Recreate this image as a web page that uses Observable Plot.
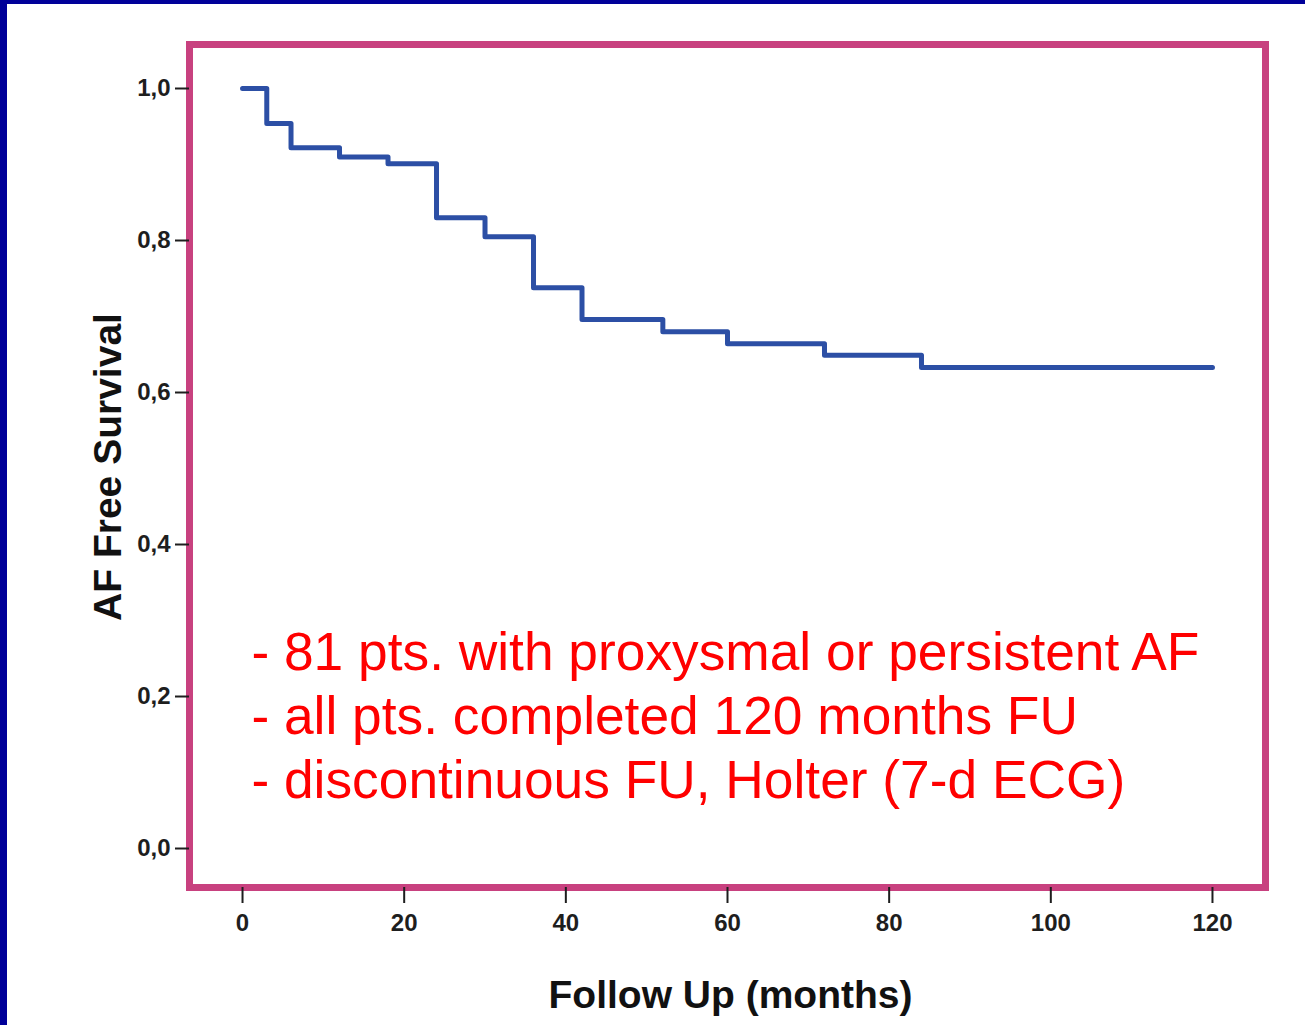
<!DOCTYPE html>
<html><head><meta charset="utf-8">
<script src="https://cdn.jsdelivr.net/npm/d3@7"></script>
<script src="https://cdn.jsdelivr.net/npm/@observablehq/plot@0.6"></script>
<style>
html,body{margin:0;padding:0;background:#fff;}
#wrap{position:relative;width:1305px;height:1025px;overflow:hidden;background:#fff;}
#wrap svg{position:absolute;left:0;top:0;}
.edgeL{position:absolute;left:0;top:0;width:7px;height:1025px;background:#000099;}
.edgeT{position:absolute;left:0;top:0;width:1305px;height:4px;background:#000099;}
</style></head>
<body><div id="wrap"><div class="edgeL"></div><div class="edgeT"></div></div>
<script>
const months   = [0, 3, 6, 12, 18, 24, 30, 36, 42, 52, 60, 72, 84, 120];
const survival = [1.0, 0.954, 0.922, 0.910, 0.901, 0.830, 0.805, 0.738, 0.696, 0.680, 0.664, 0.649, 0.633, 0.633];
const xTicks = [0, 20, 40, 60, 80, 100, 120];
const yTicks = [0, 0.2, 0.4, 0.6, 0.8, 1.0];
const xLabel = "Follow Up (months)";
const yLabel = "AF Free Survival";
const notes = [
  "- 81 pts. with proxysmal or persistent AF",
  "- all pts. completed 120 months FU",
  "- discontinuous FU, Holter (7-d ECG)"
];

const data = months.map((m, i) => ({month: m, surv: survival[i]}));
const font = "'Liberation Sans', Arial, Helvetica, sans-serif";

const chart = Plot.plot({
  width: 1305, height: 1025,
  marginLeft: 189, marginRight: 40, marginTop: 44, marginBottom: 138,
  style: {background: "transparent", fontFamily: font},
  x: {domain: [-6.56, 126.56]},
  y: {domain: [-0.0513, 1.0579]},
  marks: [
    Plot.line(data, {x: "month", y: "surv", curve: "step-after", stroke: "#2c4fa5", strokeWidth: 5}),
    Plot.frame({stroke: "#c8417f", strokeWidth: 7}),
    Plot.axisX({ticks: xTicks, tickSize: 16, tickPadding: 10, fontSize: 24, fontWeight: "bold",
      color: "#1e1e1e", strokeWidth: 2, label: null, tickFormat: d => String(d)}),
    Plot.axisY({ticks: yTicks, tickSize: 14, tickPadding: 5, fontSize: 24, fontWeight: "bold",
      color: "#1e1e1e", strokeWidth: 2, label: null, tickFormat: d => d.toFixed(1).replace(".", ",")}),
    Plot.text([xLabel], {frameAnchor: "bottom", dx: 3, dy: 120, lineAnchor: "bottom",
      fontSize: 39, fontWeight: "bold", fill: "#111"}),
    Plot.text([yLabel], {frameAnchor: "left", textAnchor: "middle", rotate: -90, dx: -81, dy: 1,
      lineAnchor: "middle", fontSize: 39, fontWeight: "bold", fill: "#111"}),
    Plot.text([notes.join("\n")], {x: 1.1, y: 0.0671, textAnchor: "start", lineAnchor: "bottom",
      lineHeight: 1.2, fontSize: 53.3, fill: "#ff0000"})
  ]
});
document.getElementById("wrap").prepend(chart);
</script>
</body></html>
